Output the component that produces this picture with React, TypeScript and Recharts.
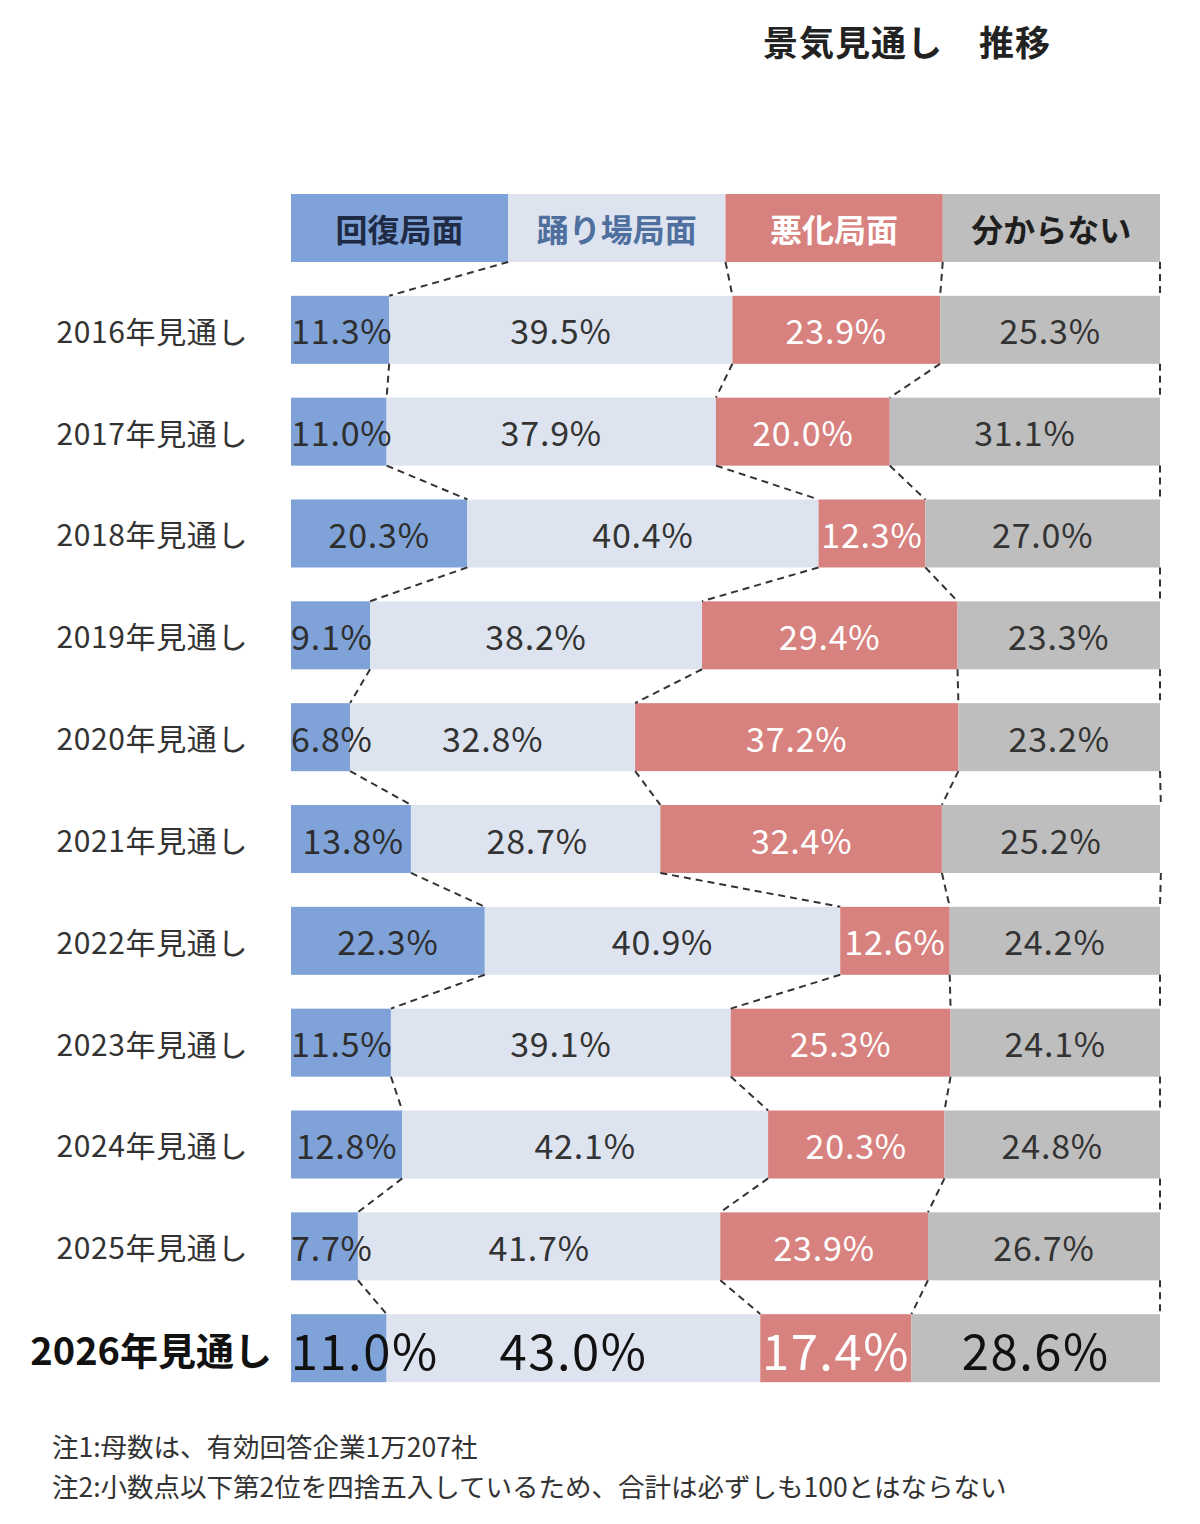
import React from 'react';
import { BarChart, Bar, XAxis, YAxis, ReferenceLine } from 'recharts';

const years = [
  '2016年見通し', '2017年見通し', '2018年見通し', '2019年見通し', '2020年見通し', '2021年見通し',
  '2022年見通し', '2023年見通し', '2024年見通し', '2025年見通し', '2026年見通し',
];
const seriesNames = ['回復局面', '踊り場局面', '悪化局面', '分からない'];
const headerShares = [25, 25, 25, 25];
const recovery = [11.3, 11.0, 20.3, 9.1, 6.8, 13.8, 22.3, 11.5, 12.8, 7.7, 11.0];
const plateau = [39.5, 37.9, 40.4, 38.2, 32.8, 28.7, 40.9, 39.1, 42.1, 41.7, 43.0];
const worsening = [23.9, 20.0, 12.3, 29.4, 37.2, 32.4, 12.6, 25.3, 20.3, 23.9, 17.4];
const unknown = [25.3, 31.1, 27.0, 23.3, 23.2, 25.2, 24.2, 24.1, 24.8, 26.7, 28.6];
const title = '景気見通し　推移';
const notes = [
  '注1:母数は、有効回答企業1万207社',
  '注2:小数点以下第2位を四捨五入しているため、合計は必ずしも100とはならない',
];

const KEYS = ['a', 'b', 'c', 'd'];
const COLORS = ['#7fa2d8', '#dde4ef', '#d88280', '#bebebe'];
const HEADER_TEXT = ['#1f2b45', '#4f6f9f', '#ffffff', '#1e1e1e'];
const VALUE_TEXT = ['#2e2e2e', '#333333', '#ffffff', '#333333'];
const LAST_TEXT = ['#111111', '#111111', '#ffffff', '#111111'];
const FONT = "'Noto Sans CJK JP', 'Noto Sans', sans-serif";
const BAR = 68;

type Row = { name: string; kind: 'header' | 'year' | 'last'; a: number; b: number; c: number; d: number };

const data: Row[] = [
  { name: 'header', kind: 'header', a: headerShares[0], b: headerShares[1], c: headerShares[2], d: headerShares[3] },
  ...years.map((y, i) => ({
    name: y,
    kind: (i === years.length - 1 ? 'last' : 'year') as Row['kind'],
    a: recovery[i],
    b: plateau[i],
    c: worsening[i],
    d: unknown[i],
  })),
];

const val = (r: Row, k: number) => (r as any)[KEYS[k]] as number;
const cum = (r: Row, k: number) => KEYS.slice(0, k + 1).reduce((s, key) => s + (r as any)[key], 0);

const connectors: { x1: number; y1: string; x2: number; y2: string }[] = [];
for (let i = 0; i < data.length - 1; i++) {
  for (let k = 0; k < 4; k++) {
    connectors.push({ x1: cum(data[i], k), y1: data[i].name, x2: cum(data[i + 1], k), y2: data[i + 1].name });
  }
}

const textWidth = (s: string, fs: number, ls: number) =>
  s.split('').reduce((w, ch) => w + (ch === '.' ? 0.27 : ch === '%' ? 0.86 : 0.56) * fs + ls, 0);

const plainShape = (si: number) => (props: any) => {
  const { x, y, width, height } = props;
  return <rect x={x} y={y} width={width} height={height} fill={COLORS[si]} />;
};

// Last series draws its rect plus all labels of the row (so labels sit above every segment).
const lastShape = (props: any) => {
  const { x, y, width, height, payload } = props;
  const row: Row = payload;
  const pxPerUnit = width / val(row, 3);
  const x0 = x - cum(row, 2) * pxPerUnit;
  const texts: React.ReactNode[] = [];
  for (let si = 0; si < 4; si++) {
    const sx = x0 + (si === 0 ? 0 : cum(row, si - 1)) * pxPerUnit;
    const sw = val(row, si) * pxPerUnit;
    let label = '';
    let fs = 34;
    let ls = 0.8;
    let color = VALUE_TEXT[si];
    let weight: any = 400;
    if (row.kind === 'header') {
      label = seriesNames[si];
      color = HEADER_TEXT[si];
      weight = 700;
      fs = 32;
      ls = 0;
    } else {
      label = val(row, si).toFixed(1) + '%';
      if (row.kind === 'last') {
        fs = 49;
        ls = 1.5;
        color = LAST_TEXT[si];
      }
    }
    let tx = sx + sw / 2;
    if (row.kind !== 'header') {
      const tw = textWidth(label, fs, ls);
      if (tx - tw / 2 < sx + 1) tx = sx + 1 + tw / 2;
    }
    texts.push(
      <text
        key={si}
        x={tx}
        y={y + height / 2}
        textAnchor="middle"
        dominantBaseline="central"
        fontSize={fs}
        fontWeight={weight}
        fill={color}
        fontFamily={FONT}
        letterSpacing={ls}
      >
        {label}
      </text>
    );
  }
  return (
    <g>
      <rect x={x} y={y} width={width} height={height} fill={COLORS[3]} />
      {texts}
    </g>
  );
};

const YTick = (props: any) => {
  const { x, y, payload } = props;
  const v = payload.value as string;
  if (v === 'header') return null;
  const last = v === years[years.length - 1];
  return (
    <text
      x={last ? x - 19 : x - 43}
      y={y}
      textAnchor="end"
      dominantBaseline="central"
      fontSize={last ? 38 : 30}
      fontWeight={last ? 700 : 400}
      fill={last ? '#111' : '#333'}
      fontFamily={FONT}
      letterSpacing={last ? 0 : 0.6}
    >
      {v}
    </text>
  );
};

const dashShape = (p: any) => (
  <line
    x1={p.x1}
    y1={p.y1 + BAR / 2}
    x2={p.x2}
    y2={p.y2 - BAR / 2}
    stroke="#333"
    strokeWidth={2}
    strokeDasharray="7 5"
  />
);

export default function App() {
  return (
    <div style={{ position: 'absolute', left: 0, top: 0, width: 1200, height: 1524, background: '#fff', fontFamily: FONT }}>
      <div
        style={{ position: 'absolute', left: 763, top: 15, fontSize: 35, fontWeight: 700, color: '#222', whiteSpace: 'nowrap', letterSpacing: 1 }}
      >
        {title}
      </div>
      <BarChart
        width={1200}
        height={1524}
        layout="vertical"
        data={data}
        margin={{ top: 177, right: 40, bottom: 125, left: 0 }}
        barSize={BAR}
      >
        <XAxis type="number" domain={[0, 100]} allowDataOverflow hide />
        <YAxis
          type="category"
          dataKey="name"
          width={291}
          axisLine={false}
          tickLine={false}
          tickSize={0}
          tickMargin={0}
          tick={<YTick />}
          interval={0}
        />
        {KEYS.map((k, i) => (
          <Bar key={k} dataKey={k} stackId="s" isAnimationActive={false} shape={i === 3 ? lastShape : plainShape(i)} />
        ))}
        {connectors.map((c, i) => (
          <ReferenceLine
            key={'c' + i}
            segment={[{ x: c.x1, y: c.y1 }, { x: c.x2, y: c.y2 }]}
            ifOverflow="visible"
            shape={dashShape}
          />
        ))}
      </BarChart>
      {notes.map((n, i) => (
        <div
          key={i}
          style={{ position: 'absolute', left: 52, top: 1426 + i * 40, fontSize: 26.5, color: '#333', whiteSpace: 'nowrap' }}
        >
          {n}
        </div>
      ))}
    </div>
  );
}
